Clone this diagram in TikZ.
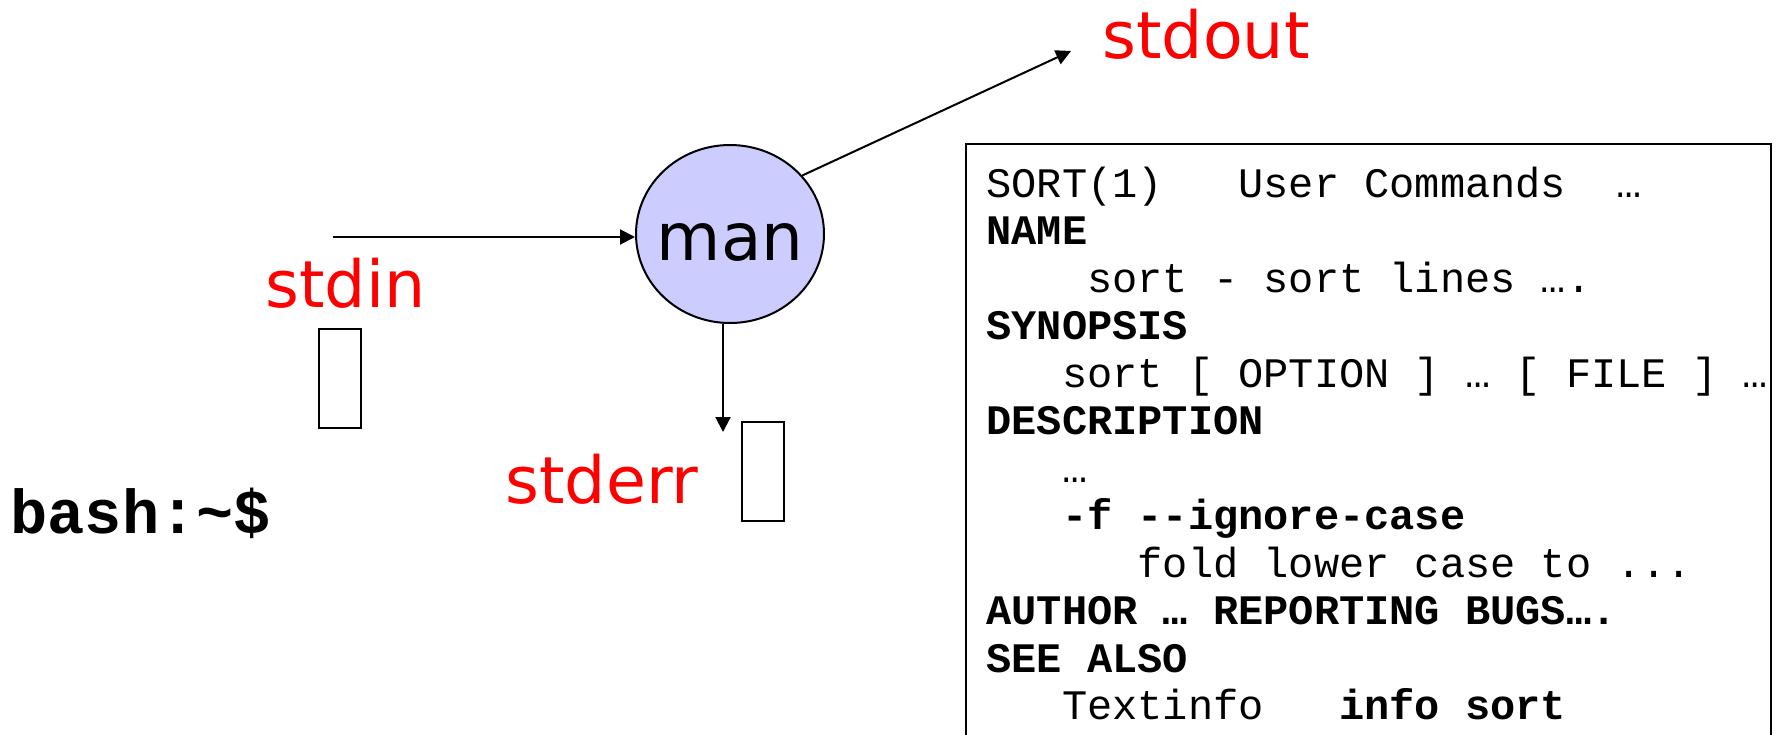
\documentclass[tikz,border=0pt]{standalone}
\usepackage{fontspec}
\setmainfont{DejaVu Sans}
\newfontfamily\courfont{Liberation Mono}
\usetikzlibrary{shapes.geometric,arrows.meta}

\definecolor{manfill}{RGB}{204,204,255}

\tikzset{
  stream/.style={text=red, font=\fontsize{32.5}{40}\selectfont, inner sep=0pt, anchor=base west},
  buffer/.style={draw, line width=1pt, minimum width=21pt, minimum height=49.5pt, inner sep=0pt},
  flow/.style={line width=1pt, -{Triangle[length=7.5pt,width=7.5pt]}},
  manline/.style={font=\courfont\fontsize{21}{24}\selectfont, inner sep=0pt, anchor=base west}
}

\begin{document}
\begin{tikzpicture}[x=0.5pt, y=-0.5pt]
  \useasboundingbox (0,0) rectangle (1777,734);

  % the process
  \node[ellipse, draw, line width=1pt, fill=manfill, minimum width=94pt, minimum height=89pt,
        inner sep=0pt, font=\fontsize{33}{40}\selectfont, text height=26pt, text depth=0pt]
        (man) at (730,234) {\makebox[0pt]{man}};

  % streams
  \node[stream] (stdin) at (265,307) {stdin};
  \node[stream] (stderr) at (505,503) {stderr};
  \node[stream] (stdout) at (1102,58) {stdout};
  \node[buffer] (inbuf) at (340,378.5) {};
  \node[buffer] (errbuf) at (762.5,471.5) {};

  \coordinate (inStart) at (333,237);
  \coordinate (errTip) at (723,432);
  \coordinate (outTip) at (1071,51);
  \draw[flow] (inStart) -- (inStart -| man.west);
  \draw[flow] (man.south -| errTip) -- (errTip);
  \draw[flow] (man.39) -- (outTip);

  % prompt
  \node[font=\courfont\bfseries\fontsize{31}{37}\selectfont, anchor=base west, inner sep=0pt]
        (prompt) at (10,533) {bash:\textasciitilde\$};

  % the man page
  \draw[line width=1pt] (966,760) |- (1771,144) -- (1771,760);
  \foreach \n/\ind/\txt in {
      0/0/{SORT(1)\ \ \ User Commands\ \ …},
      1/0/{\bfseries NAME},
      2/4/{sort - sort lines ….},
      3/0/{\bfseries SYNOPSIS},
      4/3/{sort [ OPTION ] … [ FILE ] …},
      5/0/{\bfseries DESCRIPTION},
      6/3/{…},
      7/3/{\bfseries -f -{}-ignore-case},
      8/6/{fold lower case to ...},
      9/0/{\bfseries AUTHOR … REPORTING BUGS….},
      10/0/{\bfseries SEE ALSO},
      11/3/{Textinfo\ \ \ {\bfseries info sort}}}
    \node[manline] (line\n) at ({986+25.2*\ind},{197+47.5*\n}) {\txt};
\end{tikzpicture}
\end{document}
